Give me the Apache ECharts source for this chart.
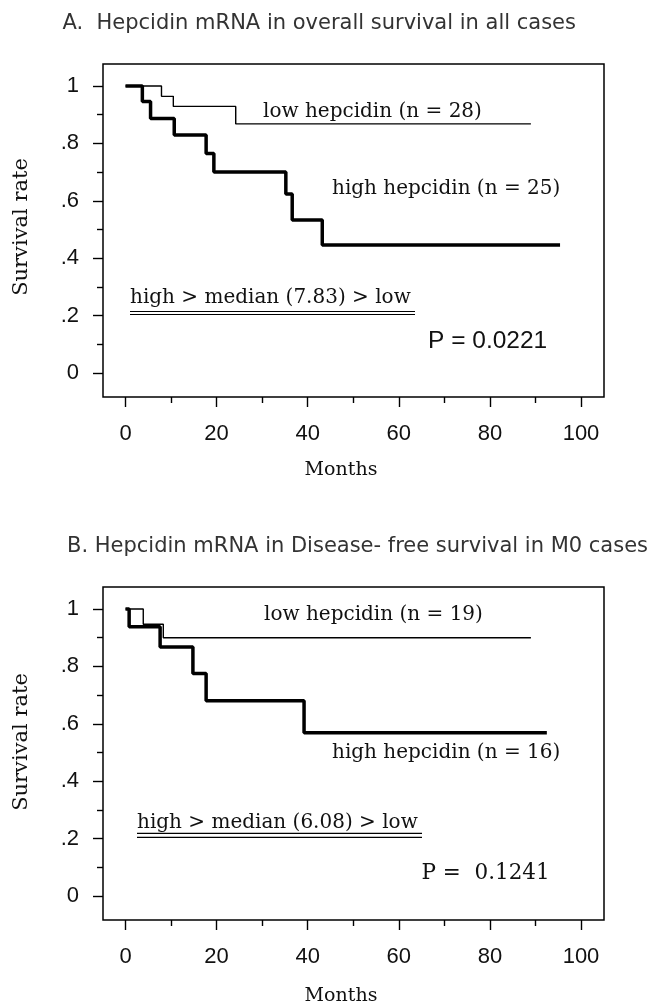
<!DOCTYPE html>
<html>
<head>
<meta charset="utf-8">
<script src="https://cdn.jsdelivr.net/npm/echarts@6/dist/echarts.min.js"></script>
<style>
html,body{margin:0;padding:0;background:#fff;}
#chart{width:651px;height:1002px;}
</style>
</head>
<body>
<div id="chart"></div>
<script>
// ---- Data ----
const xTickLabels = ['0', '20', '40', '60', '80', '100'];
const yTickLabels = ['0', '.2', '.4', '.6', '.8', '1'];

// Panel A: overall survival, all cases
const aLowTime  = [0, 7.9, 10.5, 24.2, 89.0];
const aLowSurv  = [1, 0.964, 0.929, 0.868, 0.868];
const aHighTime = [0, 3.7, 5.5, 10.7, 17.7, 19.4, 35.2, 36.6, 43.2, 95.4];
const aHighSurv = [1, 0.946, 0.887, 0.829, 0.765, 0.700, 0.624, 0.533, 0.446, 0.446];

// Panel B: disease-free survival, M0 cases
const bLowTime  = [0, 3.9, 8.3, 89.0];
const bLowSurv  = [1, 0.947, 0.900, 0.900];
const bHighTime = [0, 0.8, 7.6, 14.8, 17.7, 39.2, 92.5];
const bHighSurv = [1, 0.938, 0.868, 0.775, 0.680, 0.569, 0.569];

const titles = [
  'A.  Hepcidin mRNA in overall survival in all cases',
  'B. Hepcidin mRNA in Disease- free survival in M0 cases'
];
const lowLabels  = ['low hepcidin (n = 28)', 'low hepcidin (n = 19)'];
const highLabels = ['high hepcidin (n = 25)', 'high hepcidin (n = 16)'];
const medianLabels = ['high > median (7.83) > low', 'high > median (6.08) > low'];
const pLabels = ['P = 0.0221', 'P =  0.1241'];

function zip(t, s) { return t.map((v, i) => [v, s[i]]); }

// ---- Layout ----
const panelTop = [0, 523];
const SERIF = '"DejaVu Serif", serif';
const SANS = '"Liberation Sans", Arial, sans-serif';
const TITLE = '"DejaVu Sans", sans-serif';

const grids = [], xAxes = [], yAxes = [], series = [], graphics = [];
const tickStyle = { color: '#000', width: 1.4 };
function hidden(g, min, max) { return { gridIndex: g, type: 'value', min: min, max: max, show: false }; }

[0, 1].forEach(p => {
  const off = panelTop[p];
  const g0 = 4 * p;
  // frame grid
  grids.push({ left: 103, right: 47, top: 64 + off, height: 333,
    show: true, borderColor: '#000', borderWidth: 1.5, backgroundColor: 'transparent' });
  // data grid
  grids.push({ left: 125.5, right: 70, top: 86 + off, height: 287, show: false });
  // x tick grid (axis on frame bottom)
  grids.push({ left: 125.5, right: 70, top: 64 + off, height: 333, show: false });
  // y tick grid (axis on frame left)
  grids.push({ left: 103, right: 47, top: 86 + off, height: 287, show: false });

  // frame axes
  xAxes.push(hidden(g0, 0, 1));
  yAxes.push(hidden(g0, 0, 1));
  // data axes
  xAxes.push(hidden(g0 + 1, 0, 100));
  yAxes.push(hidden(g0 + 1, 0, 1));
  // x tick axes
  xAxes.push({
    gridIndex: g0 + 2, type: 'value', min: 0, max: 100, interval: 20, position: 'bottom',
    axisLine: { show: false },
    axisTick: { show: true, length: 10, lineStyle: tickStyle },
    minorTick: { show: true, splitNumber: 2, length: 6, lineStyle: tickStyle },
    splitLine: { show: false },
    axisLabel: { margin: 26, color: '#111', fontFamily: SANS, fontSize: 22,
      formatter: v => xTickLabels[Math.round(v / 20)] }
  });
  yAxes.push(hidden(g0 + 2, 0, 1));
  // y tick axes
  xAxes.push(hidden(g0 + 3, 0, 1));
  yAxes.push({
    gridIndex: g0 + 3, type: 'value', min: 0, max: 1, interval: 0.2, position: 'left',
    axisLine: { show: false },
    axisTick: { show: true, length: 10, lineStyle: tickStyle },
    minorTick: { show: true, splitNumber: 2, length: 6, lineStyle: tickStyle },
    splitLine: { show: false },
    axisLabel: { margin: 24, color: '#111', fontFamily: SANS, fontSize: 22,
      formatter: v => yTickLabels[Math.round(v / 0.2)] }
  });

  const lowD = p === 0 ? zip(aLowTime, aLowSurv) : zip(bLowTime, bLowSurv);
  const highD = p === 0 ? zip(aHighTime, aHighSurv) : zip(bHighTime, bHighSurv);
  series.push({ type: 'line', xAxisIndex: g0 + 1, yAxisIndex: g0 + 1, data: lowD,
    step: 'end', symbol: 'none', clip: false, silent: true,
    lineStyle: { color: '#000', width: 1.4 } });
  series.push({ type: 'line', xAxisIndex: g0 + 1, yAxisIndex: g0 + 1, data: highD,
    step: 'end', symbol: 'none', clip: false, silent: true,
    lineStyle: { color: '#000', width: 3.5 } });

  // titles
  graphics.push({ type: 'text', x: p === 0 ? 62.5 : 67, y: p === 0 ? 24 : 547,
    style: { text: titles[p], font: '21px ' + TITLE, fill: '#333', align: 'left', verticalAlign: 'middle' } });
  // y axis name
  graphics.push({ type: 'text', x: 22, y: p === 0 ? 227 : 742, rotation: Math.PI / 2,
    style: { text: 'Survival rate', font: '21px ' + SERIF, fill: '#111', align: 'center', verticalAlign: 'middle' } });
  // x axis name
  graphics.push({ type: 'text', x: 341, y: p === 0 ? 470 : 996,
    style: { text: 'Months', font: '19px ' + SERIF, fill: '#111', align: 'center', verticalAlign: 'middle' } });
});

// annotations
const ann = [
  { t: lowLabels[0], x: 263, y: 112 },
  { t: highLabels[0], x: 332, y: 189 },
  { t: medianLabels[0], x: 130, y: 298 },
  { t: lowLabels[1], x: 264, y: 615 },
  { t: highLabels[1], x: 332, y: 753 },
  { t: medianLabels[1], x: 137, y: 822.5 }
];
ann.forEach(a => graphics.push({ type: 'text', x: a.x, y: a.y,
  style: { text: a.t, font: '20px ' + SERIF, fill: '#111', align: 'left', verticalAlign: 'middle' } }));

graphics.push({ type: 'text', x: 428, y: 341,
  style: { text: pLabels[0], font: '24.5px ' + SANS, fill: '#111', align: 'left', verticalAlign: 'middle' } });
graphics.push({ type: 'text', x: 421.5, y: 873,
  style: { text: pLabels[1], font: '21.5px ' + SERIF, fill: '#111', align: 'left', verticalAlign: 'middle' } });

// double underlines
[[130, 415, 311.5], [130, 415, 314.5], [137, 422, 833.3], [137, 422, 837.3]].forEach(l =>
  graphics.push({ type: 'line', shape: { x1: l[0], y1: l[2], x2: l[1], y2: l[2] },
    style: { stroke: '#000', lineWidth: 1.2 } }));

const chart = echarts.init(document.getElementById('chart'), null, { renderer: 'canvas' });
chart.setOption({
  animation: false,
  backgroundColor: '#fff',
  grid: grids, xAxis: xAxes, yAxis: yAxes, series: series,
  graphic: graphics
});
</script>
</body>
</html>
